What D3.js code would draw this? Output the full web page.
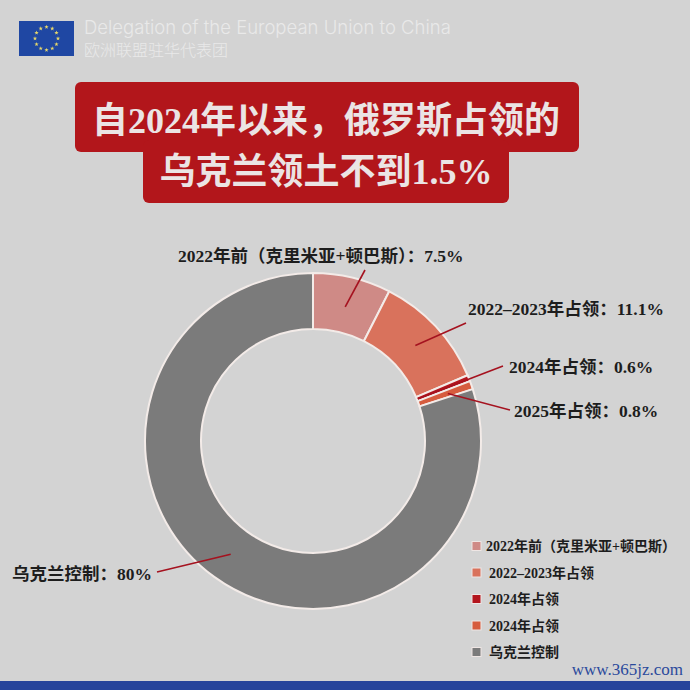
<!DOCTYPE html>
<html>
<head>
<meta charset="utf-8">
<script src="https://cdn.jsdelivr.net/npm/d3@7"></script>
<style>
  html, body { margin: 0; padding: 0; background: #d3d3d3; }
  svg { display: block; }
</style>
</head>
<body>
<div id="chart"></div>
<script>
const w = 690;
const h = 690;

// data
const categories = ["2022年前（克里米亚+顿巴斯）", "2022–2023年占领", "2024年占领", "2025年占领", "乌克兰控制"];
const shares = [7.5, 11.1, 0.6, 0.8, 80];
const valueLabels = ["7.5%", "11.1%", "0.6%", "0.8%", "80%"];
const legendLabels = ["2022年前（克里米亚+顿巴斯）", "2022–2023年占领", "2024年占领", "2024年占领", "乌克兰控制"];
const titleLines = ["自2024年以来，俄罗斯占领的", "乌克兰领土不到1.5%"];
const headerEn = "Delegation of the European Union to China";
const headerZh = "欧洲联盟驻华代表团";

const sliceColors = ["#cf8a86", "#d9725c", "#b3151d", "#d65c3e", "#7b7b7b"];
const labelFont = '"Liberation Serif", "Noto Sans CJK SC", serif';

const cx = 313, cy = 441;
const outerR = 168, innerR = 112;

// where each callout text sits and where its leader line ends
const callouts = [
  {tx: 178, ty: 262, lx: 365, ly: 270, r: 138},
  {tx: 468, ty: 315, lx: 466, ly: 323, r: 140},
  {tx: 509, ty: 373, lx: 503, ly: 366, r: 113},
  {tx: 514, ty: 417, lx: 510, ly: 410, r: 143},
  {tx: 12, ty: 580, lx: 157, ly: 572, r: 140}
];

const svg = d3.select("#chart").append("svg")
  .attr("width", w)
  .attr("height", h);

svg.append("rect")
  .attr("width", w)
  .attr("height", h)
  .attr("fill", "#d3d3d3");

// header: EU flag + delegation name
const flag = svg.append("g").attr("transform", "translate(19,21)");
flag.append("rect")
  .attr("width", 55)
  .attr("height", 35)
  .attr("fill", "#1f47a3");
flag.selectAll("path")
  .data(d3.range(12))
  .enter()
  .append("path")
  .attr("d", d3.symbol().type(d3.symbolStar).size(6))
  .attr("transform", i => {
    const a = i / 12 * 2 * Math.PI;
    return "translate(" + (27.5 + 11.5 * Math.sin(a)) + "," + (17.5 - 11.5 * Math.cos(a)) + ")";
  })
  .attr("fill", "#e8d86a");

svg.append("text")
  .attr("x", 84)
  .attr("y", 34)
  .attr("font-family", "Inter, 'Open Sans', sans-serif")
  .attr("font-weight", 300)
  .attr("font-size", 18.5)
  .attr("fill", "#e9e9e9")
  .text(headerEn);

svg.append("text")
  .attr("x", 84)
  .attr("y", 56)
  .attr("font-family", "'Noto Sans CJK SC', sans-serif")
  .attr("font-weight", 300)
  .attr("font-size", 16)
  .attr("fill", "#e9e9e9")
  .text(headerZh);

// title boxes
const titleRed = "#b2161b";
svg.append("rect")
  .attr("x", 75).attr("y", 82)
  .attr("width", 504).attr("height", 70)
  .attr("rx", 6)
  .attr("fill", titleRed);
svg.append("rect")
  .attr("x", 143).attr("y", 140)
  .attr("width", 366).attr("height", 63)
  .attr("rx", 6)
  .attr("fill", titleRed);

svg.selectAll(".title")
  .data(titleLines)
  .enter()
  .append("text")
  .attr("class", "title")
  .attr("x", 326)
  .attr("y", (d, i) => 133 + i * 51)
  .attr("text-anchor", "middle")
  .attr("font-family", labelFont)
  .attr("font-weight", "bold")
  .attr("font-size", 36)
  .attr("fill", "#ebe4e4")
  .text(d => d);

// donut
const pie = d3.pie().sort(null).value(d => d);
const arcs = pie(shares);

const arc = d3.arc()
  .innerRadius(innerR)
  .outerRadius(outerR);

const color = d3.scaleOrdinal()
  .domain(d3.range(shares.length))
  .range(sliceColors);

const donut = svg.append("g")
  .attr("transform", "translate(" + cx + "," + cy + ")");

donut.selectAll("path")
  .data(arcs)
  .enter()
  .append("path")
  .attr("d", arc)
  .attr("fill", (d, i) => color(i))
  .attr("stroke", "#f3ebe8")
  .attr("stroke-width", 2)
  .attr("stroke-linejoin", "round");

// callouts
const anchor = (d, r) => {
  const a = (d.startAngle + d.endAngle) / 2;
  return [cx + r * Math.sin(a), cy - r * Math.cos(a)];
};

svg.selectAll(".leader")
  .data(arcs)
  .enter()
  .append("line")
  .attr("class", "leader")
  .attr("x1", (d, i) => anchor(d, callouts[i].r)[0])
  .attr("y1", (d, i) => anchor(d, callouts[i].r)[1])
  .attr("x2", (d, i) => callouts[i].lx)
  .attr("y2", (d, i) => callouts[i].ly)
  .attr("stroke", "#a5121f")
  .attr("stroke-width", 1.6);

svg.selectAll(".callout")
  .data(arcs)
  .enter()
  .append("text")
  .attr("class", "callout")
  .attr("x", (d, i) => callouts[i].tx)
  .attr("y", (d, i) => callouts[i].ty)
  .attr("font-family", labelFont)
  .attr("font-weight", "bold")
  .attr("font-size", 17.5)
  .attr("fill", "#1d1d1d")
  .text((d, i) => categories[i] + "：" + valueLabels[i]);

// legend
const legend = svg.append("g").attr("id", "legend");
const size = 9;

legend.selectAll("rect")
  .data(legendLabels)
  .enter()
  .append("rect")
  .attr("x", 472)
  .attr("y", (d, i) => 546 + i * 26.5 - size / 2)
  .attr("width", size)
  .attr("height", size)
  .attr("fill", (d, i) => color(i))
  .attr("stroke", "#efe6e4")
  .attr("stroke-width", 1);

legend.selectAll("text")
  .data(legendLabels)
  .enter()
  .append("text")
  .attr("x", (d, i) => i === 0 ? 486 : 489)
  .attr("y", (d, i) => 546 + i * 26.5)
  .attr("dy", "0.36em")
  .attr("font-family", labelFont)
  .attr("font-weight", "bold")
  .attr("font-size", 14)
  .attr("fill", "#1d1d1d")
  .text(d => d);

// watermark and bottom band
svg.append("text")
  .attr("x", 683)
  .attr("y", 675)
  .attr("text-anchor", "end")
  .attr("font-family", labelFont)
  .attr("font-size", 17)
  .attr("fill", "#2b4a9c")
  .text("www.365jz.com");

svg.append("rect")
  .attr("x", 0).attr("y", 681)
  .attr("width", w).attr("height", 9)
  .attr("fill", "#26449b");
</script>
</body>
</html>
